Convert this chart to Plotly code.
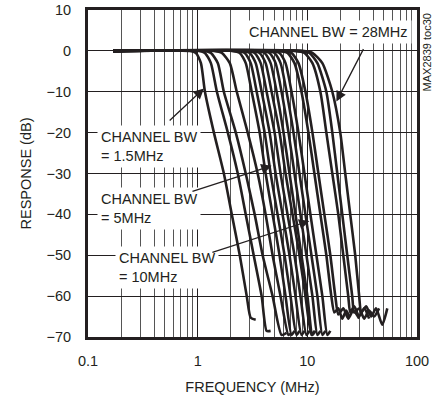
import numpy as np
import plotly.graph_objects as go

# ---- data (frequency in MHz, response in dB) ----
f01 = [0.17, 0.851, 0.965, 1.071, 1.165, 1.406, 1.733, 2.048, 2.420, 2.802, 3.046, 3.381]
r01 = [0, 0, -0.5, -3, -10, -20, -30, -40, -50, -60, -65.3, -65.8]
f02 = [0.17, 1.027, 1.165, 1.320, 1.497, 1.884, 2.321, 2.744, 3.243, 3.833, 4.254, 4.626]
r02 = [0, 0, -0.5, -3, -10, -20, -30, -40, -50, -60, -68.5, -68.5]
f03 = [0.17, 1.140, 1.320, 1.528, 1.733, 2.226, 2.744, 3.311, 3.914, 4.823, 5.820, 6.462]
r03 = [0, 0, -0.5, -3, -10, -20, -30, -40, -50, -60, -69.5, -69]
f04 = [0.17, 1.406, 1.662, 1.964, 2.273, 2.861, 3.525, 4.166, 4.823, 5.700, 6.737, 7.174]
r04 = [0, 0, -0.5, -3, -10, -20, -30, -40, -50, -60, -69.5, -69]

r_mid = [0, 0, -0.5, -3, -10, -20, -30, -40, -50, -60, -69.5, -68.5]
f05 = [0.17, 2.048, 2.420, 2.744, 3.110, 3.676, 4.166, 4.823, 5.582, 6.328, 7.174, 7.637]
f06 = [0.17, 2.273, 2.687, 3.046, 3.452, 4.080, 4.626, 5.354, 6.197, 7.025, 7.963, 8.478]
f07 = [0.17, 2.523, 2.983, 3.381, 3.833, 4.530, 5.135, 5.943, 6.880, 7.798, 8.840, 9.413]
f08 = [0.17, 2.802, 3.311, 3.754, 4.254, 5.029, 5.700, 6.598, 7.637, 8.657, 9.815, 10.45]
f09 = [0.17, 3.110, 3.676, 4.166, 4.723, 5.582, 6.328, 7.325, 8.478, 9.612, 10.90, 11.60]
f10 = [0.17, 3.452, 4.080, 4.626, 5.244, 6.069, 6.880, 7.798, 8.840, 10.02, 11.13, 11.85]
f11 = [0.17, 3.833, 4.530, 5.135, 5.820, 6.737, 7.637, 8.657, 9.815, 11.13, 12.35, 13.15]
f12 = [0.17, 4.254, 5.029, 5.700, 6.462, 7.480, 8.478, 9.612, 10.90, 12.35, 13.71, 14.60]
f13 = [0.17, 4.723, 5.582, 6.328, 7.174, 8.303, 9.413, 10.67, 12.10, 13.71, 15.22, 16.21]

f14 = [0.17, 5.354, 6.598, 7.637, 8.840, 10.23, 11.60, 13.15, 14.91, 16.55, 17.62, 19.16, 20.83, 22.64, 24.10]
r14 = [0, 0, -0.5, -3, -10, -20, -30, -40, -50, -60, -64, -63, -65.5, -63.5, -65]
f15 = [0.17, 5.820, 7.174, 8.303, 9.612, 11.13, 12.61, 14.30, 16.21, 17.99, 19.16, 21.27, 23.61, 26.21, 29.71]
r15 = [0, 0, -0.5, -3, -10, -20, -30, -40, -50, -60, -64.5, -63, -65.5, -63.5, -65.5]
f16 = [0.17, 7.637, 9.413, 11.13, 13.15, 14.91, 16.90, 19.16, 21.27, 23.61, 24.61, 26.76, 29.71, 32.98, 36.6]
r16 = [0, 0, -0.5, -3, -10, -20, -30, -40, -50, -60, -64, -62.5, -65, -63, -65.5]
f17 = [0.17, 8.478, 10.45, 12.35, 14.91, 16.90, 18.76, 20.83, 23.12, 25.66, 26.76, 29.71, 32.98, 36.6, 40.6, 45.1]
r17 = [0, 0, -0.5, -3, -10, -20, -30, -40, -50, -60, -64, -63, -65.5, -63.5, -65, -63]
f18 = [0.17, 9.026, 11.13, 13.71, 16.90, 19.97, 22.17, 24.61, 27.33, 29.71, 30.97, 34.39, 38.16, 42.3, 48.2, 53.6]
r18 = [0, 0, -0.5, -3, -10, -20, -30, -40, -50, -60, -64, -62.5, -65, -63, -67, -63]

curves = [
    (f01, r01), (f02, r02), (f03, r03), (f04, r04),
    (f05, r_mid), (f06, r_mid), (f07, r_mid), (f08, r_mid), (f09, r_mid),
    (f10, r_mid), (f11, r_mid), (f12, r_mid), (f13, r_mid),
    (f14, r14), (f15, r15), (f16, r16), (f17, r17), (f18, r18),
]

x_ticks = [0.1, 1, 10, 100]
x_tick_text = ["0.1", "1", "10", "100"]
y_ticks = [10, 0, -10, -20, -30, -40, -50, -60, -70]

# annotation texts and anchor points (MHz, dB)
labels = [
    ("CHANNEL BW = 28MHz", 15.54, 4.7, "center"),
    ("CHANNEL BW<br>= 1.5MHz", 0.122, -23.5, "left"),
    ("CHANNEL BW<br>= 5MHz", 0.122, -38.5, "left"),
    ("CHANNEL BW<br>= 10MHz", 0.1776, -53.0, "left"),
]
# arrows: (tail MHz, tail dB, tip MHz, tip dB)
arrows = [
    (33.0, 0.8, 18.4, -12.4),
    (0.538, -17.4, 1.141, -9.2),
    (0.869, -34.5, 4.724, -28.1),
    (1.320, -49.4, 10.45, -41.6),
]

INK = "#231f20"
FONT = "Liberation Sans, Arial, sans-serif"
FS = 14.5

fig = go.Figure()
for fx, ry in curves:
    fig.add_trace(go.Scatter(
        x=fx, y=ry, mode="lines",
        line=dict(color=INK, width=2.6, shape="spline", smoothing=0.6),
        showlegend=False, hoverinfo="skip",
    ))

annotations = []
for text, fx, ry, al in labels:
    annotations.append(dict(
        x=np.log10(fx), y=ry, xref="x", yref="y", text=text,
        showarrow=False, xanchor=al, yanchor="middle", align="left",
        bgcolor="white", borderpad=3,
        font=dict(family=FONT, size=FS, color=INK),
    ))
for tx, ty, hx, hy in arrows:
    annotations.append(dict(
        x=np.log10(hx), y=hy, xref="x", yref="y",
        ax=np.log10(tx), ay=ty, axref="x", ayref="y",
        text="", showarrow=True, arrowhead=2, arrowsize=1.6,
        arrowwidth=1.3, arrowcolor=INK, standoff=0, startstandoff=0,
    ))
annotations.append(dict(
    x=1.030, y=0.87, xref="paper", yref="paper", text="MAX2839 toc30",
    showarrow=False, textangle=-90, xanchor="center", yanchor="middle",
    font=dict(family=FONT, size=11, color=INK),
))

fig.update_layout(
    template="none",
    width=438, height=400,
    margin=dict(l=88, r=21, t=10, b=63, autoexpand=False),
    paper_bgcolor="white", plot_bgcolor="white",
    font=dict(family=FONT, size=FS, color=INK),
    annotations=annotations,
    xaxis=dict(
        type="log", range=[-1, 2], automargin=False,
        tickmode="array", tickvals=x_ticks, ticktext=x_tick_text,
        ticks="", showgrid=True, gridcolor=INK, gridwidth=1,
        minor=dict(dtick="D1", showgrid=True, gridcolor="#555555", gridwidth=1, ticks=""),
        showline=True, mirror=True, linecolor=INK, linewidth=3,
        zeroline=False, ticklabelstandoff=9, ticklabeloverflow="allow",
        title=dict(text="FREQUENCY (MHz)", standoff=14, font=dict(size=FS)),
    ),
    yaxis=dict(
        range=[-70, 10], tickmode="array", tickvals=y_ticks, automargin=False,
        ticks="", showgrid=True, gridcolor=INK, gridwidth=1,
        showline=True, mirror=True, linecolor=INK, linewidth=3,
        zeroline=False, ticklabelstandoff=11, ticklabeloverflow="allow",
        title=dict(text="RESPONSE (dB)", standoff=12, font=dict(size=FS)),
    ),
)

fig.write_html(
    "out.html",
    config={"displayModeBar": False},
    post_script="document.body.style.margin='0';",
)
